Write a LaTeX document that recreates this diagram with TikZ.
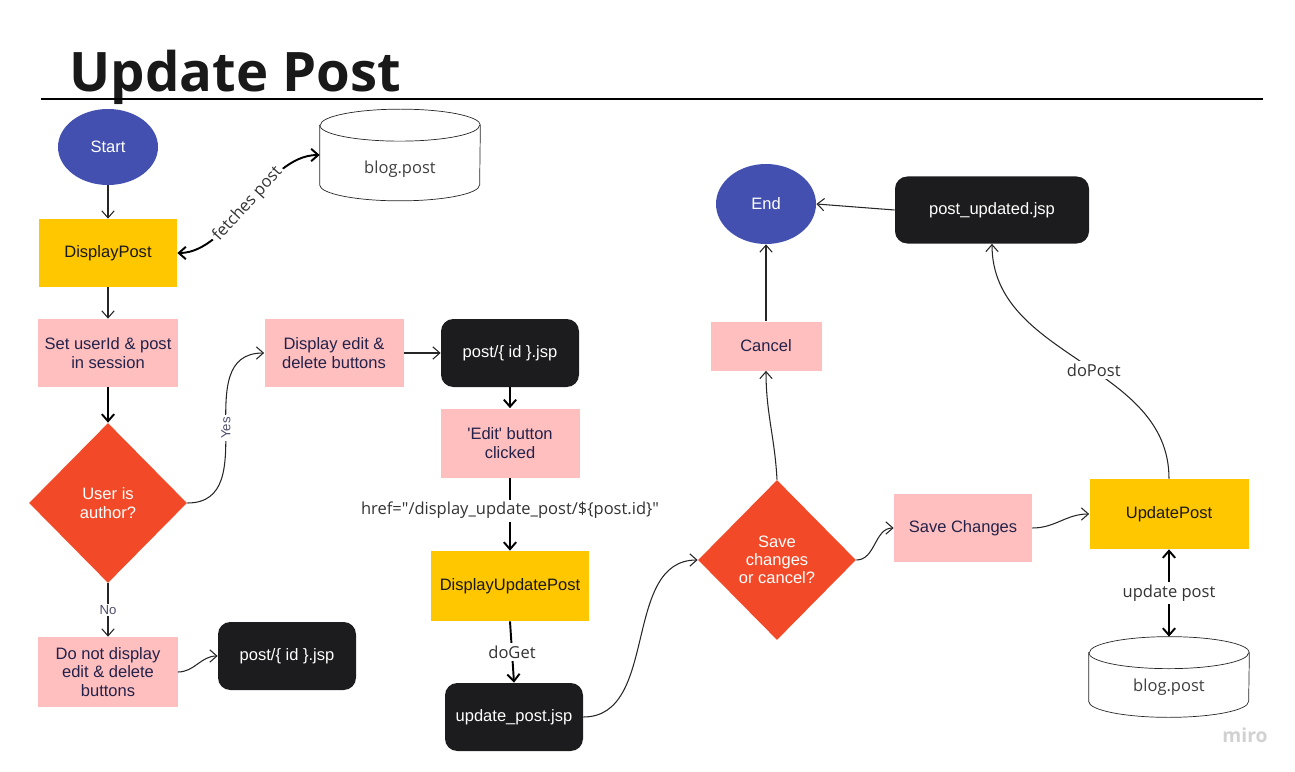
\documentclass[tikz,border=0pt]{standalone}
\usepackage{fontspec}
\setmainfont{Liberation Sans}
\newfontfamily\miro{Open Sans}
\usetikzlibrary{shapes.geometric,arrows.meta}

\definecolor{termblue}{HTML}{4350AF}
\definecolor{classyellow}{HTML}{FFC700}
\definecolor{steppink}{HTML}{FFBFBF}
\definecolor{askred}{HTML}{F24A28}
\definecolor{pageblack}{HTML}{1C1C1E}
\definecolor{inkblue}{HTML}{22224A}
\definecolor{wire}{HTML}{262626}

\begin{document}
\begin{tikzpicture}[x=0.2mm,y=0.2mm,
    >={Straight Barb[length=4pt,width=7pt]},
    every node/.style={font=\fontsize{9.4}{10.4}\selectfont},
    terminal/.style={ellipse,fill=termblue,text=white,minimum width=2cm},
    stepbox/.style={rectangle,fill=steppink,text=inkblue,align=center,minimum width=2.78cm,minimum height=1.36cm},
    classbox/.style={rectangle,fill=classyellow,text=black!90,minimum height=1.4cm},
    pagebox/.style={rectangle,rounded corners=7pt,fill=pageblack,text=white,minimum width=2.76cm,minimum height=1.36cm},
    decision/.style={diamond,fill=askred,text=white,align=center,minimum width=3.16cm,minimum height=3.2cm,inner sep=0pt},
    storebox/.style={rectangle,minimum width=3.2cm,inner sep=0pt},
    storetext/.style={font=\miro\fontsize{9.4}{11}\selectfont,text=black!75},
    wirelabel/.style={font=\miro\fontsize{9.4}{11}\selectfont,text=black!80,fill=white,inner sep=1.5pt},
    yesno/.style={font=\fontsize{7.5}{8}\selectfont,text=inkblue!80,fill=white,inner sep=1pt},
    flow/.style={->,draw=wire,line width=0.6pt},
    boldflow/.style={->,draw=black,line width=1.1pt},
    ]
    \useasboundingbox (0,0) rectangle (1295,-772);
    % Title
        \node[anchor=base west,inner sep=0pt,text=black!90,font=\miro\bfseries\fontsize{31}{37}\selectfont] (title) at (69,-92) {Update Post};
        \draw[line width=1.7pt] (41,-99) -- (1263,-99);
    % Left column
        \node[terminal,minimum height=1.52cm] (start) at (108,-147) {Start};
        \node[classbox,minimum width=2.76cm,minimum height=1.36cm] (dp) at (108,-253) {DisplayPost};
        \node[stepbox] (sess) at (108,-353) {Set userId \& post\\in session};
        \node[decision] (auth) at (108,-503) {User is\\author?};
        \node[stepbox,minimum height=1.4cm] (hide) at (108,-672) {Do not display\\edit \& delete\\buttons};
        \node[pagebox] (view2) at (287,-656) {post/\{ id \}.jsp};
        \node[storebox,minimum height=1.82cm] (db1) at (400,-155) {};
    % Middle column
        \node[stepbox] (btns) at (334,-353) {Display edit \&\\delete buttons};
        \node[pagebox] (view1) at (510,-353) {post/\{ id \}.jsp};
        \node[stepbox,minimum height=1.38cm] (edit) at (510,-443) {\textquotesingle Edit\textquotesingle{} button\\clicked};
        \node[classbox,minimum width=3.16cm] (dup) at (510,-586) {DisplayUpdatePost};
        \node[pagebox] (upj) at (514,-717) {update\_post.jsp};
    % Right part
        \node[decision] (choice) at (777,-560) {Save\\changes\\or cancel?};
        \node[stepbox,minimum width=2.76cm] (save) at (963,-528) {Save Changes};
        \node[classbox,minimum width=3.18cm] (upd) at (1169,-514) {UpdatePost};
        \node[storebox,minimum height=1.6cm] (db2) at (1169,-677) {};
        \node[stepbox,minimum width=2.22cm,minimum height=0.98cm] (cancel) at (766,-346) {Cancel};
        \node[terminal,minimum height=1.6cm] (end) at (766,-204) {End};
        \node[pagebox,minimum width=3.88cm,minimum height=1.34cm] (done) at (992,-210) {post\_updated.jsp};
        \node[text=black!18,font=\miro\bfseries\fontsize{11}{13}\selectfont] (brand) at (1245,-735) {miro};
    % Stores
        \foreach \db in {db1,db2}{
            \draw[draw=wire,fill=white] ([yshift=-0.32cm]\db.north west) -- ([yshift=0.32cm]\db.south west)
                arc[start angle=180,end angle=360,x radius=1.6cm,y radius=0.32cm]
                -- ([yshift=-0.32cm]\db.north east)
                arc[start angle=0,end angle=180,x radius=1.6cm,y radius=0.32cm] -- cycle;
            \draw[draw=wire] ([yshift=-0.32cm]\db.north west) arc[start angle=180,end angle=360,x radius=1.6cm,y radius=0.32cm];
        }
        \node[storetext] at ([yshift=-0.29cm]db1.center) {blog.post};
        \node[storetext] at ([yshift=-0.2cm]db2.center) {blog.post};
    % Connectors
        \draw[flow] (start) -- (dp);
        \draw[flow] (dp) -- (sess);
        \draw[boldflow] (sess) -- (auth);
        \draw[flow] (auth) -- node[yesno] {No} (hide);
        \draw[flow] (hide.east) to[out=0,in=180] (view2.west);
        \draw[boldflow,<->] (dp.east) .. controls (230,-253) and (265,-155) .. node[wirelabel,sloped] {fetches post} (db1.west);
        \draw[flow] (auth.east) .. controls (265,-503) and (187,-353) .. node[yesno,rotate=90] {Yes} (btns.west);
        \draw[flow] (btns) -- (view1);
        \draw[boldflow] (view1) -- (edit);
        \draw[boldflow] (edit) -- node[wirelabel,pos=0.45] {href="/display\_update\_post/\$\{post.id\}"} (dup);
        \draw[boldflow] (dup.south) -- node[wirelabel] {doGet} (upj.north);
        \draw[flow] (upj.east) to[out=0,in=180] (choice.west);
        \draw[flow] (choice.east) to[out=0,in=180] (save.west);
        \draw[flow] (save.east) to[out=0,in=180] (upd.west);
        \draw[boldflow,<->] (upd) -- node[wirelabel] {update post} (db2.north);
        \draw[flow] (upd.north) to[out=90,in=-90] node[wirelabel,pos=0.45] {doPost} (done.south);
        \draw[flow] (done.west) -- (end.east);
        \draw[flow] (choice.north) to[out=93,in=-90] (cancel.south);
        \draw[flow] (cancel) -- (end);
\end{tikzpicture}
\end{document}
